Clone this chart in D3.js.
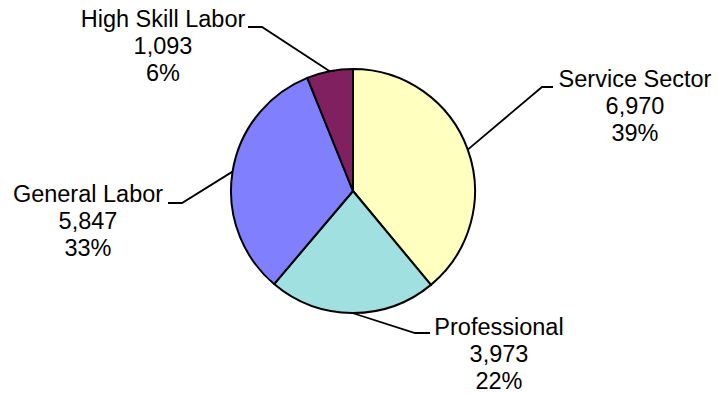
<!DOCTYPE html>
<html>
<head>
<meta charset="utf-8">
<script src="https://cdn.jsdelivr.net/npm/d3@7"></script>
<style>
  html, body { margin: 0; padding: 0; background: #fff; }
  svg { display: block; }
  text { font-family: "Liberation Sans", Arial, sans-serif; fill: #000; }
</style>
</head>
<body>
<svg id="chart" width="718" height="396"></svg>
<script>
// Employment by sector
const categories = ["Service Sector", "Professional", "General Labor", "High Skill Labor"];
const values = [6970, 3973, 5847, 1093];
const colors = ["#FFFFC0", "#A0E0E0", "#8080FF", "#802060"];

// Label placement: elbow of the leader line, end of its horizontal run,
// and the centre / first baseline of the three-line label.
const labelLayout = [
  { elbow: [542, 87], end: [553, 87], tx: 635, ty: 87 },
  { elbow: [415, 333], end: [430, 333], tx: 499, ty: 335 },
  { elbow: [182, 203], end: [168, 203], tx: 88, ty: 202 },
  { elbow: [262, 27], end: [248, 27], tx: 163, ty: 27 }
];

const svg = d3.select("#chart");
const cx = 353, cy = 191, radius = 122;
const total = d3.sum(values);
const fmtNum = d3.format(",");
const fmtPct = d3.format(".0%");

const data = categories.map((c, i) => ({ name: c, value: values[i], color: colors[i], layout: labelLayout[i] }));

const pie = d3.pie().value(d => d.value).sort(null);
const arc = d3.arc().innerRadius(0).outerRadius(radius);
const arcs = pie(data);

const g = svg.append("g").attr("transform", `translate(${cx},${cy})`);

g.selectAll("path.slice")
  .data(arcs)
  .join("path")
  .attr("class", "slice")
  .attr("d", arc)
  .attr("fill", d => d.data.color)
  .attr("stroke", "#000")
  .attr("stroke-width", 2)
  .attr("stroke-linejoin", "round");

// Leader lines from each slice's mid-angle on the rim
svg.selectAll("polyline.leader")
  .data(arcs)
  .join("polyline")
  .attr("class", "leader")
  .attr("fill", "none")
  .attr("stroke", "#000")
  .attr("stroke-width", 1.8)
  .attr("points", d => {
    const a = (d.startAngle + d.endAngle) / 2;
    const p = [cx + radius * Math.sin(a), cy - radius * Math.cos(a)];
    return [p, d.data.layout.elbow, d.data.layout.end].map(q => q.join(",")).join(" ");
  });

// Three-line labels: name, value, share
const labels = svg.selectAll("text.lbl")
  .data(arcs)
  .join("text")
  .attr("class", "lbl")
  .attr("text-anchor", "middle")
  .attr("font-size", 23.5)
  .attr("x", d => d.data.layout.tx)
  .attr("y", d => d.data.layout.ty);

labels.each(function(d) {
  const t = d3.select(this);
  const lines = [d.data.name, fmtNum(d.data.value), fmtPct(d.data.value / total)];
  lines.forEach((s, i) => {
    t.append("tspan")
      .attr("x", d.data.layout.tx)
      .attr("dy", i === 0 ? 0 : 27)
      .text(s);
  });
});
</script>
</body>
</html>
